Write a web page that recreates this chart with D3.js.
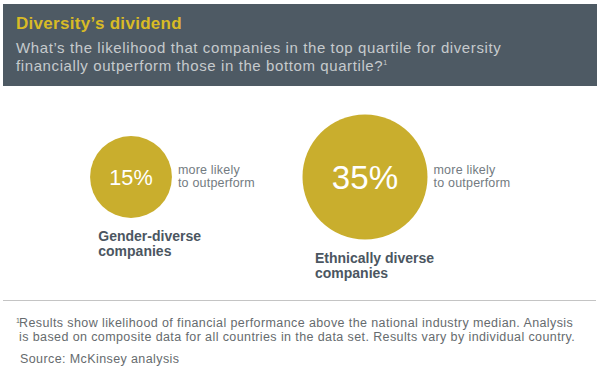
<!DOCTYPE html>
<html>
<head>
<meta charset="utf-8">
<script src="https://cdn.jsdelivr.net/npm/d3@7"></script>
<style>
  html, body { margin: 0; padding: 0; background: #fff; }
  svg { display: block; font-family: "Helvetica Neue", Helvetica, "Liberation Sans", Arial, sans-serif; }
</style>
</head>
<body>
<svg id="chart" width="600" height="389"></svg>
<script>
// Données du graphique
const categories = ["Gender-diverse companies", "Ethnically diverse companies"];
const labelLines = [["Gender-diverse", "companies"], ["Ethnically diverse", "companies"]];
const values = [15, 35];
const noteLines = ["more likely", "to outperform"];

const title = "Diversity\u2019s dividend";
const subtitle = [
  "What\u2019s the likelihood that companies in the top quartile for diversity",
  "financially outperform those in the bottom quartile?"
];
const footnote = [
  "Results show likelihood of financial performance above the national industry median. Analysis",
  "is based on composite data for all countries in the data set. Results vary by individual country."
];
const source = "Source: McKinsey analysis";

const svg = d3.select("#chart");
const W = +svg.attr("width");

// Couleurs
const slate = "#4e5a64";
const gold = "#c9ae2d";

// En-tête
svg.append("rect")
  .attr("x", 3).attr("y", 4)
  .attr("width", W - 6).attr("height", 82)
  .attr("fill", slate);

svg.append("text")
  .attr("x", 16).attr("y", 29)
  .attr("fill", "#d8bb26")
  .attr("font-size", 17)
  .attr("font-weight", "bold")
  .attr("letter-spacing", 0.3)
  .text(title);

const sub = svg.append("text")
  .attr("fill", "#c6cacd")
  .attr("font-size", 15)
  .attr("letter-spacing", 0.6);
subtitle.forEach((s, i) => {
  sub.append("tspan").attr("x", 16).attr("y", 53 + i * 17.5).text(s);
  if (i === subtitle.length - 1) {
    sub.append("tspan").attr("font-size", 7).attr("dy", -6).text("1");
  }
});

// Échelles
const x = d3.scalePoint().domain(categories).range([131, 365]);
const r = d3.scaleSqrt().domain([0, d3.max(values)]).range([0, 62.5]);
const cy = 177;

const g = svg.append("g")
  .selectAll("g")
  .data(categories.map((c, i) => ({ c, v: values[i], lines: labelLines[i] })))
  .join("g")
  .attr("transform", d => `translate(${x(d.c)},${cy})`);

g.append("circle")
  .attr("r", d => r(d.v))
  .attr("fill", gold);

g.append("text")
  .attr("text-anchor", "middle")
  .attr("dy", "0.36em")
  .attr("fill", "#fff")
  .attr("font-size", d => r(d.v) * 0.53)
  .text(d => d.v + "%");

// Texte « more likely to outperform »
g.append("text")
  .attr("fill", "#737b81")
  .attr("font-size", 12.5)
  .attr("letter-spacing", 0.2)
  .selectAll("tspan")
  .data(d => noteLines.map((l, i) => ({ l, i, rr: r(d.v) })))
  .join("tspan")
  .attr("x", d => d.rr + 6)
  .attr("y", d => -3 + d.i * 12.5)
  .text(d => d.l);

// Libellés des catégories
g.append("text")
  .attr("fill", "#4b5661")
  .attr("font-size", 14)
  .attr("font-weight", "bold")
  .selectAll("tspan")
  .data(d => d.lines.map((l, i) => ({ l, i, rr: r(d.v) })))
  .join("tspan")
  .attr("x", d => -d.rr * 0.8)
  .attr("y", d => d.rr + 23 + d.i * 15.5)
  .text(d => d.l);

// Pied de page
svg.append("line")
  .attr("x1", 3).attr("x2", W - 4)
  .attr("y1", 300.5).attr("y2", 300.5)
  .attr("stroke", "#c4c4c4");

const fn = svg.append("text")
  .attr("fill", "#666b6e")
  .attr("font-size", 12.5)
  .attr("letter-spacing", 0.4);
fn.append("tspan").attr("x", 16).attr("y", 323).attr("font-size", 7).text("1");
fn.append("tspan").attr("x", 19).attr("y", 327).text(footnote[0]);
fn.append("tspan").attr("x", 19).attr("y", 341).text(footnote[1]);

svg.append("text")
  .attr("x", 20).attr("y", 363)
  .attr("fill", "#666b6e")
  .attr("font-size", 12.5)
  .attr("letter-spacing", 0.4)
  .text(source);
</script>
</body>
</html>
